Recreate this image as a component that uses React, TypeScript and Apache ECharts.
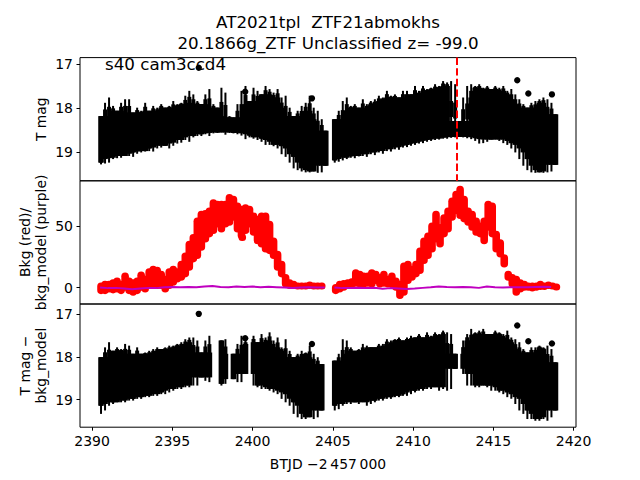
import React, { useEffect, useRef } from "react";
import * as echarts from "echarts";

// ---------- axes / ticks ----------
const X_TICKS = [2390, 2395, 2400, 2405, 2410, 2415, 2420];
const MAG_TICKS = [17, 18, 19];
const BKG_TICKS = [0, 50];
const STEP = 0.25; // sampling cadence of the read-off envelopes (days)

// ---------- panel 1 : T mag (upper / lower extent of the error-bar cloud) ----------
const TMAG_SEG1_START = 2390.56;
const TMAG_SEG1_TOP = [18.18, 17.88, 17.76, 17.95, 18.06, 17.88, 17.80, 17.80, 18.10, 17.99, 18.06, 17.88, 18.06, 17.95, 17.99, 17.91, 17.99, 17.95, 17.84, 17.91, 17.88, 17.72, 17.61, 17.69, 17.84, 17.91, 17.69, 17.57, 17.91, 17.99, 17.54, 17.65, 18.18, 18.21, 17.91, 17.61, 17.50, 17.84, 17.54, 17.61, 17.69, 17.50, 17.57, 17.65, 17.57, 17.76, 17.72, 17.99, 18.18, 18.06, 17.95, 17.88, 17.72, 17.99, 18.06, 18.25, 18.51];
const TMAG_SEG1_BOT = [19.27, 19.25, 19.23, 19.15, 19.13, 19.12, 19.08, 19.08, 19.10, 19.03, 19.00, 18.98, 18.97, 18.98, 18.91, 18.89, 18.85, 18.91, 18.85, 18.80, 18.78, 18.72, 18.76, 18.66, 18.63, 18.63, 18.59, 18.63, 18.57, 18.56, 18.55, 18.60, 18.56, 18.57, 18.59, 18.62, 18.70, 18.66, 18.69, 18.72, 18.76, 18.83, 18.83, 18.86, 18.91, 19.04, 19.10, 19.23, 19.36, 19.40, 19.43, 19.45, 19.45, 19.43, 19.46, 19.45, 19.30];
const TMAG_SEG2_START = 2405.12;
const TMAG_SEG2_TOP = [18.25, 18.06, 17.84, 17.76, 17.95, 17.91, 17.99, 17.80, 17.91, 17.84, 17.80, 17.72, 17.76, 17.61, 17.72, 17.69, 17.76, 17.61, 17.61, 17.69, 17.50, 17.61, 17.50, 17.57, 17.54, 17.46, 17.50, 17.39, 17.42, 17.39, 17.46, 18.29, 17.76, 17.50, 17.46, 17.50, 17.46, 17.54, 17.50, 17.57, 17.50, 17.54, 17.50, 17.61, 17.57, 17.69, 17.80, 17.91, 17.99, 17.88, 17.84, 17.80, 17.76, 17.80, 17.88, 18.14];
const TMAG_SEG2_BOT = [19.23, 19.21, 19.18, 19.15, 19.12, 19.13, 19.09, 19.08, 19.10, 19.04, 19.06, 19.00, 19.03, 18.97, 18.98, 18.93, 18.94, 18.89, 18.88, 18.85, 18.83, 18.80, 18.79, 18.76, 18.74, 18.72, 18.71, 18.69, 18.69, 18.67, 18.66, 18.65, 18.66, 18.68, 18.70, 18.74, 18.80, 18.79, 18.76, 18.71, 18.71, 18.74, 18.79, 18.83, 18.91, 19.00, 19.15, 19.30, 19.40, 19.45, 19.46, 19.45, 19.46, 19.45, 19.43, 19.28];
const TMAG_OUTLIER_T = [2396.65, 2399.54, 2403.70, 2416.49, 2417.18, 2418.65];
const TMAG_OUTLIER_MAG = [17.09, 17.63, 17.78, 17.37, 17.67, 17.69];
const EVENT_TIME = 2412.71;

// ---------- panel 2 : background (red) and model (purple) ----------
const BKG_SEG1_START = 2390.56;
const BKG_SEG1_TOP = [4.1, 5.5, 5.5, 6.8, 8.2, 5.5, 12.2, 8.2, 6.8, 8.2, 13.0, 9.5, 15.7, 17.6, 16.8, 13.6, 9.5, 15.7, 17.6, 15.7, 21.7, 28.5, 38.0, 43.4, 56.9, 62.3, 62.9, 65.0, 71.8, 70.5, 70.5, 70.5, 75.9, 74.5, 69.1, 66.4, 67.7, 66.4, 61.0, 58.3, 61.0, 61.0, 54.2, 40.7, 29.8, 21.7, 10.9, 6.8, 5.5, 4.1, 4.1, 4.1, 4.9, 4.1, 4.1, 4.1];
const BKG_SEG1_BOT = [-5.4, -5.4, -4.0, -4.8, -4.0, -5.4, -2.7, -5.4, -6.7, -5.4, -2.7, -4.0, 0.0, 0.0, -1.3, -1.3, -4.0, -1.3, 1.4, 4.1, 5.5, 8.2, 13.6, 20.4, 23.1, 29.8, 36.6, 40.7, 43.4, 48.8, 44.7, 48.8, 50.1, 54.2, 44.7, 39.3, 43.4, 48.8, 42.0, 35.2, 32.5, 28.5, 27.1, 23.1, 13.6, 8.2, 0.0, -1.3, -1.3, -1.3, -1.3, -1.3, -1.3, -1.3, -1.3, -0.5];
const BKG_SEG2_START = 2405.18;
const BKG_SEG2_TOP = [2.8, 5.5, 6.0, 6.8, 7.6, 14.9, 13.6, 12.2, 12.2, 14.9, 13.6, 10.9, 13.6, 9.5, 12.2, 8.2, 5.5, 20.4, 21.7, 17.6, 21.7, 32.5, 40.7, 44.7, 52.9, 62.3, 51.5, 59.6, 65.0, 73.2, 78.6, 82.6, 74.5, 65.0, 62.3, 56.9, 52.9, 56.9, 70.5, 69.1, 46.1, 39.3, 27.1, 13.6, 10.9, 9.5, 6.8, 5.5, 4.1, 4.1, 4.1, 5.5, 4.1, 4.9, 4.1, 3.3];
const BKG_SEG2_BOT = [-5.4, -4.0, -2.7, -1.3, -0.5, 0.6, 0.0, 0.0, 0.6, 0.0, 2.8, 0.0, 0.6, 0.0, -0.5, -2.7, -9.4, -6.7, 2.8, 5.5, 8.2, 10.9, 19.0, 23.1, 28.5, 36.6, 32.5, 40.7, 44.7, 54.2, 59.6, 55.6, 52.9, 50.1, 46.1, 42.0, 40.7, 35.2, 46.1, 40.7, 28.5, 24.4, 16.3, 5.5, 0.0, -6.7, -4.0, -2.7, -2.7, -3.2, -2.7, -2.1, -2.1, -1.3, -1.3, -1.3];
const BKG_EXTRA_T = [2399.36];
const BKG_EXTRA_V = [40.7];
const MODEL_STEP = 0.5;
const MODEL_SEG1_START = 2390.5;
const MODEL_SEG1 = [0.0, -0.5, -0.3, -0.8, -1.5, -0.8, -0.3, -0.5, 0.2, 0.5, 0.3, 0.5, 0.2, 0.8, 1.2, 0.5, 0.3, 0.8, 0.5, 0.8, 0.3, 0.6, 0.3, 0.0, -0.3, 0.0, 0.2, 0.0, 0.0];
const MODEL_SEG2_START = 2405.1;
const MODEL_SEG2 = [0.0, -0.5, -0.3, -0.2, -0.3, -0.2, -1.0, -0.5, -0.8, -1.2, -0.8, -0.3, 0.2, 0.8, 0.5, 0.3, 0.5, 0.2, -0.3, 0.8, 0.3, 0.0, 0.2, 0.3, 0.3, 0.5, 0.6, 0.5];

// ---------- panel 3 : T mag - bkg_model ----------
const DIFF_SEG1_START = 2390.56;
const DIFF_SEG1_TOP = [18.01, 17.78, 17.66, 17.86, 17.78, 17.82, 17.70, 17.74, 17.93, 17.78, 17.93, 17.90, 17.86, 17.82, 17.78, 17.82, 17.78, 17.74, 17.74, 17.70, 17.66, 17.59, 17.55, 17.55, 17.62, 17.90, 17.62, 17.51, null, null, 17.62, 17.59, null, 17.93, 17.70, 17.51, 17.62, null, 17.51, 17.66, 17.47, 17.55, 17.43, 17.62, 17.55, 17.78, 17.59, 17.86, 18.01, 17.93, 17.86, 17.90, 17.74, 17.93, 18.01, 18.17, null];
const DIFF_SEG1_BOT = [19.33, 19.25, 19.14, 19.10, 19.06, 19.06, 19.06, 19.02, 19.02, 18.98, 18.98, 18.94, 18.94, 18.91, 18.91, 18.87, 18.87, 18.83, 18.79, 18.75, 18.75, 18.71, 18.71, 18.67, 18.67, 18.48, 18.56, 18.59, null, null, 18.67, 18.63, null, 18.52, 18.59, 18.59, 18.40, null, 18.67, 18.71, 18.75, 18.75, 18.79, 18.83, 18.87, 18.98, 19.06, 19.14, 19.33, 19.41, 19.45, 19.45, 19.41, 19.45, 19.41, 19.25, null];
const DIFF_SEG2_START = 2405.12;
const DIFF_SEG2_TOP = [18.09, 17.93, 17.59, 17.62, 17.78, 17.86, 17.82, 17.70, 17.74, 17.78, 17.78, 17.70, 17.70, 17.59, 17.62, 17.59, 17.55, 17.62, 17.55, 17.51, 17.55, 17.47, 17.55, 17.43, 17.51, 17.43, 17.47, 17.39, 17.43, 17.47, 17.93, null, 17.62, 17.47, 17.35, 17.43, 17.39, 17.35, 17.47, 17.47, 17.39, 17.43, 17.47, 17.39, 17.55, 17.59, 17.66, 17.82, 17.90, 17.78, 17.78, 17.74, 17.78, 17.74, 17.82, 18.13];
const DIFF_SEG2_BOT = [19.25, 19.22, 19.14, 19.10, 19.10, 19.06, 19.10, 19.06, 19.14, 19.10, 19.06, 19.02, 19.02, 18.98, 18.98, 18.94, 18.94, 18.91, 18.91, 18.87, 18.83, 18.79, 18.79, 18.75, 18.75, 18.71, 18.79, 18.75, 18.79, 18.75, 18.28, null, 18.40, 18.67, 18.67, 18.71, 18.71, 18.67, 18.71, 18.79, 18.79, 18.83, 18.87, 18.94, 18.98, 19.10, 19.25, 19.33, 19.45, 19.45, 19.49, 19.49, 19.45, 19.49, 19.41, 19.25];
const DIFF_OUTLIER_T = [2396.65, 2399.54, 2403.70, 2416.49, 2417.18, 2418.65];
const DIFF_OUTLIER_MAG = [17.00, 17.57, 17.70, 17.27, 17.64, 17.69];

// ---------- helpers ----------
type Num = number | null;
// Each sample: [t, top, bottom, coreTop, coreBottom]; the "core" is the part shared
// with the neighbouring samples, the rest is drawn as a thin error-bar spike.
function bandData(start: number, step: number, tops: Num[], bots: Num[], reach = 1) {
  const out: number[][] = [];
  const n = tops.length;
  for (let i = 0; i < n; i++) {
    const a = tops[i];
    const b = bots[i];
    if (a == null || b == null) continue;
    let coreA = a;
    let coreB = b;
    for (let j = i - reach; j <= i + reach; j++) {
      if (j < 0 || j >= n || j === i) continue;
      const na = tops[j];
      const nb = bots[j];
      if (na == null || nb == null) continue;
      coreA = Math.max(coreA, na);
      coreB = Math.min(coreB, nb);
    }
    if (coreB < coreA) {
      coreA = a;
      coreB = b;
    }
    out.push([start + i * step, a, b, coreA, coreB]);
  }
  return out;
}
function lineData(start: number, step: number, vals: number[]) {
  return vals.map((v, i) => [start + i * step, v]);
}
function pairs(ts: number[], vs: number[]) {
  return ts.map((t, i) => [t, vs[i]]);
}

const FONT = "DejaVu Sans";

const blackBand = (_p: any, api: any) => {
  const t = api.value(0);
  const pTop = api.coord([t, api.value(1)]);
  const pBot = api.coord([t, api.value(2)]);
  const pCoreTop = api.coord([t, api.value(3)]);
  const pCoreBot = api.coord([t, api.value(4)]);
  const left = api.coord([t - STEP / 2, api.value(1)])[0];
  const right = api.coord([t + STEP / 2, api.value(1)])[0];
  const cx = pTop[0];
  const y0 = Math.min(pTop[1], pBot[1]);
  const y1 = Math.max(pTop[1], pBot[1]);
  const c0 = Math.min(pCoreTop[1], pCoreBot[1]);
  const c1 = Math.max(pCoreTop[1], pCoreBot[1]);
  return {
    type: "group",
    children: [
      {
        type: "rect",
        shape: { x: left - 0.8, y: c0, width: right - left + 1.6, height: c1 - c0 },
        style: { fill: "#000" },
      },
      {
        type: "rect",
        shape: { x: cx - 1.0, y: y0, width: 2.0, height: y1 - y0 },
        style: { fill: "#000" },
      },
      {
        type: "rect",
        shape: { x: cx - 2.0, y: y0 + 0.5 * (c0 - y0), width: 4.0, height: c1 - c0 },
        style: { fill: "#000" },
      },
    ],
  };
};

const redBand = (_p: any, api: any) => {
  const t = api.value(0);
  const c1 = api.coord([t, api.value(1)]);
  const c2 = api.coord([t, api.value(2)]);
  const top = Math.min(c1[1], c2[1]);
  const h = Math.max(Math.abs(c2[1] - c1[1]), 7);
  return {
    type: "rect",
    shape: { x: c1[0] - 3.8, y: top, width: 7.6, height: h, r: 3.8 },
    style: { fill: "#ff0000" },
  };
};

const errDot = (color: string, err: number) => (_p: any, api: any) => {
  const t = api.value(0);
  const m = api.value(1);
  const c = api.coord([t, m]);
  const e1 = api.coord([t, m - err]);
  const e2 = api.coord([t, m + err]);
  return {
    type: "group",
    children: [
      { type: "line", shape: { x1: c[0], y1: e1[1], x2: c[0], y2: e2[1] }, style: { stroke: color, lineWidth: 1.5 } },
      { type: "circle", shape: { cx: c[0], cy: c[1], r: 3.2 }, style: { fill: color } },
    ],
  };
};

const GRID_TOPS = [57.6, 180.8, 304];
const GRID_H = 123.2;
const X_MIN = 2389.25;
const X_MAX = 2420.15;

function buildOption() {
  const grids = GRID_TOPS.map((top) => ({
    left: 80,
    top,
    width: 496,
    height: GRID_H,
    show: true,
    borderColor: "#000",
    borderWidth: 1,
    backgroundColor: "transparent",
  }));
  const xAxes = [0, 1, 2].map((i) => ({
    type: "value",
    gridIndex: i,
    min: X_MIN,
    max: X_MAX,
    axisLine: { show: false },
    splitLine: { show: false },
    axisTick: { show: i === 2, customValues: X_TICKS, length: 3.5, lineStyle: { color: "#000", width: 1 } },
    axisLabel: {
      show: i === 2,
      customValues: X_TICKS,
      margin: 7,
      color: "#000",
      fontSize: 14,
      fontFamily: FONT,
      formatter: (v: number) => String(v),
    },
  }));
  const yCommon = (ticks: number[]) => ({
    type: "value",
    axisLine: { show: false },
    splitLine: { show: false },
    axisTick: { show: true, customValues: ticks, length: 3.5, lineStyle: { color: "#000", width: 1 } },
    axisLabel: {
      customValues: ticks,
      margin: 7,
      color: "#000",
      fontSize: 14,
      fontFamily: FONT,
      formatter: (v: number) => String(v),
    },
  });
  const yAxes = [
    { ...yCommon(MAG_TICKS), gridIndex: 0, inverse: true, min: 16.86, max: 19.64 },
    { ...yCommon(BKG_TICKS), gridIndex: 1, min: -13.4, max: 86.7 },
    { ...yCommon(MAG_TICKS), gridIndex: 2, inverse: true, min: 16.77, max: 19.64 },
  ];

  const p1Band = [
    ...bandData(TMAG_SEG1_START, STEP, TMAG_SEG1_TOP, TMAG_SEG1_BOT, 2),
    ...bandData(TMAG_SEG2_START, STEP, TMAG_SEG2_TOP, TMAG_SEG2_BOT, 2),
  ];
  const p3Band = [
    ...bandData(DIFF_SEG1_START, STEP, DIFF_SEG1_TOP, DIFF_SEG1_BOT, 2),
    ...bandData(DIFF_SEG2_START, STEP, DIFF_SEG2_TOP, DIFF_SEG2_BOT, 2),
  ];
  const redData = [
    ...bandData(BKG_SEG1_START, STEP, BKG_SEG1_TOP, BKG_SEG1_BOT),
    ...bandData(BKG_SEG2_START, STEP, BKG_SEG2_TOP, BKG_SEG2_BOT),
    ...pairs(BKG_EXTRA_T, BKG_EXTRA_V).map(([t, v]) => [t, v + 2.8, v - 2.8]),
  ];

  const series: any[] = [
    {
      type: "custom",
      name: "T mag",
      xAxisIndex: 0,
      yAxisIndex: 0,
      renderItem: blackBand,
      data: p1Band,
      encode: { x: 0, y: [1, 2] },
      silent: true,
      z: 2,
    },
    {
      type: "custom",
      name: "T mag outliers",
      xAxisIndex: 0,
      yAxisIndex: 0,
      renderItem: errDot("#000", 0.05),
      data: pairs(TMAG_OUTLIER_T, TMAG_OUTLIER_MAG),
      encode: { x: 0, y: 1 },
      silent: true,
      z: 3,
      markLine: {
        silent: true,
        symbol: "none",
        label: { show: false },
        lineStyle: { color: "#ff0000", width: 2, type: [7.4, 3.2] },
        data: [{ xAxis: EVENT_TIME }],
        z: 4,
      },
    },
    {
      type: "custom",
      name: "Bkg",
      xAxisIndex: 1,
      yAxisIndex: 1,
      renderItem: redBand,
      data: redData,
      encode: { x: 0, y: [1, 2] },
      silent: true,
      z: 2,
    },
    {
      type: "line",
      name: "bkg_model 1",
      xAxisIndex: 1,
      yAxisIndex: 1,
      data: lineData(MODEL_SEG1_START, MODEL_STEP, MODEL_SEG1),
      showSymbol: false,
      lineStyle: { color: "#bf00bf", width: 2 },
      silent: true,
      z: 5,
    },
    {
      type: "line",
      name: "bkg_model 2",
      xAxisIndex: 1,
      yAxisIndex: 1,
      data: lineData(MODEL_SEG2_START, MODEL_STEP, MODEL_SEG2),
      showSymbol: false,
      lineStyle: { color: "#bf00bf", width: 2 },
      silent: true,
      z: 5,
    },
    {
      type: "custom",
      name: "diff",
      xAxisIndex: 2,
      yAxisIndex: 2,
      renderItem: blackBand,
      data: p3Band,
      encode: { x: 0, y: [1, 2] },
      silent: true,
      z: 2,
    },
    {
      type: "custom",
      name: "diff outliers",
      xAxisIndex: 2,
      yAxisIndex: 2,
      renderItem: errDot("#000", 0.05),
      data: pairs(DIFF_OUTLIER_T, DIFF_OUTLIER_MAG),
      encode: { x: 0, y: 1 },
      silent: true,
      z: 3,
    },
  ];

  const txt = (text: string, x: number, y: number, size: number, rot = 0, align = "center") => ({
    type: "text",
    x,
    y,
    rotation: rot,
    silent: true,
    z: 10,
    style: { text, fontSize: size, fontFamily: FONT, fill: "#000", align, verticalAlign: "middle" },
  });

  const graphic = [
    txt("AT2021tpl  ZTF21abmokhs", 328, 22.2, 16.7),
    txt("20.1866g_ZTF Unclassified z= -99.0", 328, 43.4, 16.7),
    txt("s40 cam3ccd4", 105, 64.2, 16.7, 0, "left"),
    txt("T mag", 41, 119.2, 13.9, Math.PI / 2),
    txt("Bkg (red)/", 24.5, 242.4, 13.9, Math.PI / 2),
    txt("bkg_model (purple)", 41, 242.4, 13.9, Math.PI / 2),
    txt("T mag \u2212", 24.5, 365.6, 13.9, Math.PI / 2),
    txt("bkg_model", 41, 365.6, 13.9, Math.PI / 2),
    txt("BTJD \u22122\u2009457\u2009000", 328, 463.5, 13.9),
  ];

  return {
    animation: false,
    backgroundColor: "#fff",
    grid: grids,
    xAxis: xAxes,
    yAxis: yAxes,
    series,
    graphic,
  };
}

export default function App() {
  const ref = useRef<HTMLDivElement>(null);
  useEffect(() => {
    if (!ref.current) return;
    const chart = echarts.init(ref.current, null, { renderer: "svg" });
    chart.setOption(buildOption() as any);
    return () => chart.dispose();
  }, []);
  return (
    <div
      ref={ref}
      style={{ position: "fixed", left: 0, top: 0, width: 640, height: 480 }}
    />
  );
}
